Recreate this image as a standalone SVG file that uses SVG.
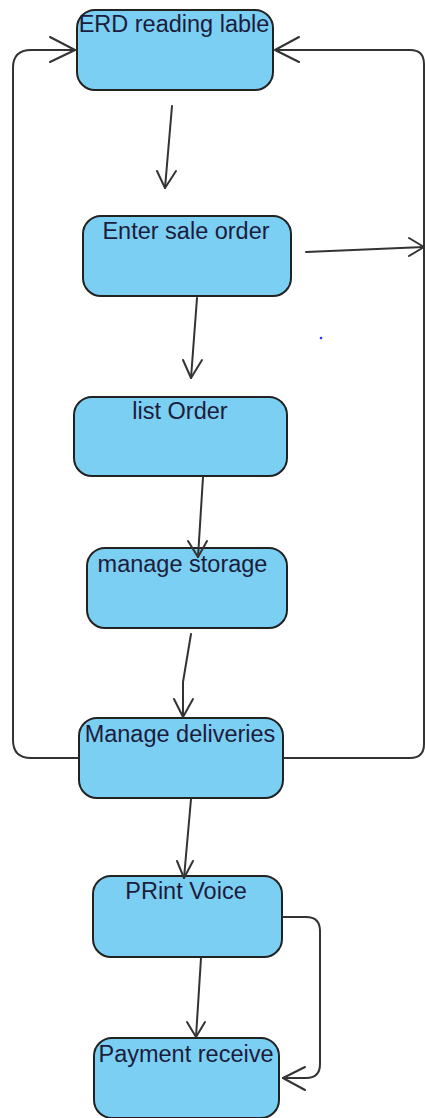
<svg xmlns="http://www.w3.org/2000/svg" width="425" height="1118" viewBox="0 0 425 1118">
<style>
.node rect{fill:#7bcff2;stroke:#222;stroke-width:2}
.node text{font-family:"Liberation Sans",Arial,sans-serif;font-size:23.5px;fill:#1c1c3c;text-anchor:middle}
.edge{fill:none;stroke:#333;stroke-width:2;stroke-linecap:round;stroke-linejoin:round}
</style>
<rect width="425" height="1118" fill="#ffffff"/>
<g id="n1" class="node"><rect x="77" y="10" width="196" height="80" rx="18"/><text x="174" y="32">ERD reading lable</text></g>
<g id="n2" class="node"><rect x="83" y="216" width="208" height="80" rx="18"/><text x="186" y="239">Enter sale order</text></g>
<g id="n3" class="node"><rect x="74" y="397" width="213" height="79" rx="18"/><text x="180" y="419">list Order</text></g>
<g id="n4" class="node"><rect x="87" y="548" width="200" height="80" rx="18"/><text x="182.5" y="572">manage storage</text></g>
<g id="n5" class="node"><rect x="79" y="718" width="204" height="80" rx="18"/><text x="180" y="742">Manage deliveries</text></g>
<g id="n6" class="node"><rect x="93" y="876" width="189" height="81" rx="18"/><text x="186" y="899">PRint Voice</text></g>
<g id="n7" class="node"><rect x="94" y="1038" width="185" height="80" rx="18"/><text x="186" y="1062">Payment receive</text></g>
<g id="connectors" class="edge">
<path d="M78 758 H31 Q13 758 13 740 V68 Q13 50 31 50 H76"/>
<path d="M50 37 L75 50 L50 62"/>
<path d="M284 758 H410 Q424 758 424 744 V64 Q424 50 410 50 H276"/>
<path d="M299 37 L275 50 L299 62"/>
<path d="M172 106 L165 188"/>
<path d="M157 171 L165 188 L176 171"/>
<path d="M306 252 L424 247"/>
<path d="M409 238 L424 247 L409 256"/>
<path d="M197 298 L191 378"/>
<path d="M183 360 L191 378 L202 360"/>
<path d="M203 477 L198 557"/>
<path d="M188 541 L198 557 L207 541"/>
<path d="M191 634 L183 682 V717"/>
<path d="M174 699 L183 717 L193 699"/>
<path d="M191 799 L184 878"/>
<path d="M177 861 L184 878 L193 861"/>
<path d="M201 958 L196 1037"/>
<path d="M187 1022 L196 1037 L205 1022"/>
<path d="M283 917 H306 Q320 917 320 931 V1064 Q320 1078 306 1078 H283"/>
<path d="M305 1067 L283 1078 L305 1090"/>
</g>
<circle cx="321" cy="338" r="1.3" fill="#3030ff"/>
</svg>
